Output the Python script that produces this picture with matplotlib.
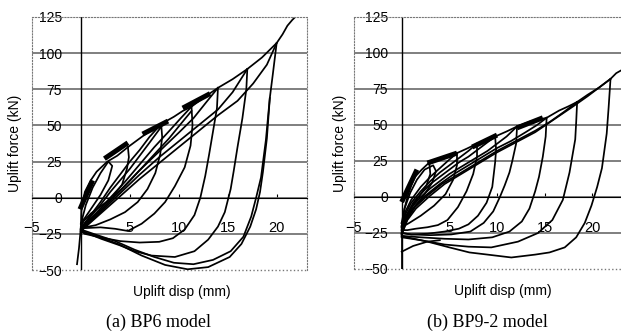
import matplotlib
matplotlib.use("Agg")
import matplotlib.pyplot as plt

plt.rcParams['font.family'] = ['Liberation Sans', 'DejaVu Sans']

# ---- BP6 model (left) : (disp mm, force kN) ----
bp6_spike = [(-0.4, -46), (-0.2, -35), (0, -20)]
bp6_virgin = [(0, -20), (0.05, -8), (0.4, 4), (1.0, 12), (1.6, 18), (2.7, 25), (3.7, 29), (4.8, 35)]
bp6_small = [(0, -18), (0.5, -5), (1.2, 7), (2.0, 17), (2.8, 25), (3.2, 22), (2.8, 12), (2.0, 2), (1.0, -8), (0, -18)]
bp6_env = [(4.8, 35), (6.0, 41), (7.0, 46), (8.2, 51), (9.5, 56), (10.4, 60), (11.3, 63), (12.5, 69),
           (14.0, 76), (15.5, 82), (17.0, 89), (18.5, 97), (20.0, 107), (20.6, 113), (21.1, 119),
           (21.6, 123), (22.2, 127)]
bp6_un1 = [(4.8, 35), (4.9, 28), (4.7, 20), (4.2, 9), (3.2, 0), (2.0, -6), (1.0, -11), (0.3, -16), (0, -20)]
bp6_un2 = [(8.2, 51), (8.3, 42), (8.1, 30), (7.6, 17), (6.8, 6), (5.8, -3), (4.5, -10), (3.0, -15),
           (1.5, -19), (0, -21)]
bp6_un3 = [(11.3, 63), (11.4, 50), (11.2, 36), (10.6, 21), (9.6, 8), (8.6, -3), (7.5, -11), (6.2, -18),
           (4.8, -23), (3.5, -21.5), (2.0, -20.5), (0.5, -21), (0, -21)]
bp6_un4 = [(14.0, 76), (13.9, 62), (13.5, 46), (13.1, 30), (12.7, 15), (12.2, 0), (11.6, -12), (10.6, -22),
           (9.4, -28), (8.0, -30.5), (6.0, -31), (4.0, -30), (2.0, -27.5), (0.4, -25), (0, -23)]
bp6_un5 = [(17.0, 89), (16.9, 75), (16.5, 55), (16.0, 35), (15.6, 18), (15.3, 6), (14.7, -10), (14.0, -20),
           (13.0, -29), (11.6, -37), (9.6, -41), (7.2, -40), (5.5, -37), (4.0, -33), (2.1, -28.5),
           (0.8, -25), (0, -23)]
bp6_un6 = [(20.0, 107), (19.6, 85), (19.3, 69), (19.0, 41), (18.6, 18), (18.3, 4), (17.9, -8), (17.3, -20),
           (16.4, -32), (15.2, -41), (13.0, -48), (10.9, -49.5), (8.6, -46.5), (6.2, -40), (3.8, -32),
           (1.4, -26), (0.4, -24), (0, -22)]
bp6_un6b = [(19.3, 69), (18.9, 40), (18.4, 14), (17.9, 0), (17.4, -13), (16.6, -27), (15.3, -37),
            (13.5, -43), (11.5, -46), (9.5, -45), (7.5, -41), (5.5, -36), (3.5, -30), (1.5, -25.5), (0, -22)]
bp6_re2 = [(0, -21), (1, -12), (2, -3), (3, 7), (4, 16), (5, 25), (6, 33), (7, 42), (8.2, 51)]
bp6_re2b = [(0, -21), (1, -13), (2, -5), (3, 4), (4, 12), (5, 20), (6, 29), (7, 38), (8.2, 49)]
bp6_re3 = [(0, -21), (1.5, -11), (3, 0), (4.5, 11), (6, 23), (7.5, 35), (9, 46), (10.2, 55), (11.3, 63)]
bp6_re3b = [(0, -22), (1.5, -12), (3, -2), (4.5, 8), (6, 19), (7.5, 30), (9, 41), (10.2, 51), (11.3, 60)]
bp6_re4 = [(0, -22), (2, -9), (4, 5), (6, 19), (8, 32), (10, 45), (11.5, 55), (12.8, 66), (14, 76)]
bp6_re5 = [(0, -23), (2, -10), (4, 3), (6, 16), (8, 28), (10, 39), (12, 50), (14, 61), (15.5, 73), (17, 89)]
bp6_re6 = [(0, -23), (2, -11), (4, 1), (6, 13), (8, 24), (10, 35), (12, 46), (14, 57), (16, 67),
           (17.6, 79), (19, 92), (20, 107)]
bp6_backbone = [[(-0.1, -8), (1.2, 12)], [(2.4, 27), (4.8, 38)], [(6.3, 44), (8.9, 53)], [(10.4, 62), (13.2, 72)]]

bp6_curves = [bp6_spike, bp6_virgin, bp6_small, bp6_env, bp6_un1, bp6_un2, bp6_un3, bp6_un4, bp6_un5,
              bp6_un6, bp6_un6b, bp6_re2, bp6_re2b, bp6_re3, bp6_re3b, bp6_re4, bp6_re5, bp6_re6]

# ---- BP9-2 model (right) ----
bp9_spike = [(0, -50), (0, -38), (0, -27)]
bp9_tail = [(0, -38), (1.2, -34), (2.7, -31), (4.0, -30)]
bp9_virgin = [(0, -21), (0.3, -8), (0.6, 0), (1.0, 8), (1.4, 14), (2.1, 19), (2.9, 24)]
bp9_small = [(0, -18), (0.3, -8), (0.9, 3), (1.6, 12), (2.4, 19), (3.3, 22), (3.6, 18), (3.2, 10),
             (2.3, 1), (1.2, -8), (0.3, -15), (0, -18)]
bp9_env = [(2.9, 24), (4.0, 27), (5.0, 29), (5.8, 30.5), (6.8, 33.5), (7.9, 37), (8.8, 39.5), (9.8, 42),
           (11.0, 45.5), (12.1, 49), (13.5, 52.5), (15.2, 55), (16.5, 60), (17.5, 63), (18.4, 66),
           (19.5, 71), (20.7, 76), (21.9, 82), (22.5, 86), (23.3, 89)]
bp9_un1 = [(2.9, 24), (3.0, 16), (2.6, 8), (1.8, 0), (1.0, -7), (0.4, -14), (0, -20)]
bp9_un2 = [(5.8, 30.5), (5.8, 22), (5.4, 12), (4.6, 2), (3.4, -6), (2.0, -13), (0.8, -18), (0, -21)]
bp9_un3 = [(7.9, 37), (7.9, 28), (7.5, 16), (6.8, 4), (5.9, -7), (4.8, -16), (3.8, -19.5), (2.7, -21),
           (1.5, -22), (0.6, -23), (0, -23)]
bp9_un4 = [(9.8, 42), (9.9, 33), (9.8, 24), (9.5, 7), (8.9, -4), (8.0, -13), (7.0, -19), (6.0, -22),
           (4.5, -24), (2.7, -25.5), (1.0, -26), (0, -25)]
bp9_un5 = [(12.1, 49), (12.0, 37), (11.6, 25), (11.3, 17), (10.8, 8), (10.3, 0), (9.6, -10), (8.6, -18),
           (7.2, -24), (5.2, -26), (3.0, -26.5), (1.0, -26), (0, -25)]
bp9_un6 = [(15.2, 55), (15.1, 42), (14.8, 28), (14.4, 14), (14.0, 4), (13.4, -8), (12.6, -17), (11.3, -24),
           (9.5, -28), (7.0, -29.5), (4.5, -29), (2.0, -28), (0, -27)]
bp9_un7 = [(18.4, 66), (18.3, 52), (18.2, 40), (17.6, 17), (16.9, -2), (15.8, -16), (14.3, -25),
           (12.2, -31), (9.4, -35), (7.0, -34.5), (4.5, -33), (2.0, -30), (0, -28)]
bp9_un8 = [(21.9, 82), (21.7, 62), (21.5, 44), (21.0, 20), (20.5, 7), (19.9, -6), (19.2, -18), (18.3, -28),
           (17.1, -35), (15.5, -38.5), (14.0, -40), (11.5, -42), (9.0, -40), (7.1, -38.5), (5.0, -35),
           (2.7, -31), (0.6, -28), (0, -27)]
bp9_re2 = [(0, -20), (0.4, -10), (1, -2), (2, 7), (3, 14), (4, 20), (5, 26), (5.8, 30.5)]
bp9_re3 = [(0, -22), (0.4, -12), (1, -4), (2, 4), (3, 11), (4, 17), (5, 22), (6, 27), (7, 32), (7.9, 37)]
bp9_re4 = [(0, -23), (0.5, -13), (1.2, -4), (2, 2), (3, 9), (4, 14), (5, 19), (6, 24), (7, 28), (8, 33),
           (9, 38), (9.8, 42)]
bp9_re5 = [(0, -24), (0.5, -14), (1.2, -6), (2, 0), (3, 6), (4, 11), (5, 16), (6, 20), (7, 24), (8, 28),
           (9, 32), (10, 37), (11, 42), (12.1, 49)]
bp9_re6 = [(0, -25), (0.5, -15), (1.3, -7), (2.5, 1), (4, 9), (5.5, 16), (7, 22), (8.5, 28), (10, 34),
           (11.5, 39), (13, 45), (14.2, 50), (15.2, 55)]
bp9_re7 = [(0, -26), (0.6, -15), (1.4, -7), (2.7, 1), (4.2, 9), (6, 16), (8, 24), (10, 32), (12, 39),
           (14, 46), (15.5, 52), (17, 59), (18.4, 66)]
bp9_re8 = [(0, -26), (0.6, -16), (1.5, -8), (3, 1), (4.5, 9), (6, 15), (8, 23), (10, 31), (12, 38),
           (14, 45), (16, 54), (18, 63), (19.5, 70), (20.7, 76), (21.9, 82)]
bp9_backbone = [[(0, -3.5), (0.6, 5), (1.6, 19)], [(2.7, 23.6), (5.8, 30.5)], [(7.4, 34.7), (10.0, 43)],
                [(12.1, 48), (14.8, 55)]]

bp9_curves = [bp9_spike, bp9_tail, bp9_virgin, bp9_small, bp9_env, bp9_un1, bp9_un2, bp9_un3, bp9_un4,
              bp9_un5, bp9_un6, bp9_un7, bp9_un8, bp9_re2, bp9_re3, bp9_re4, bp9_re5, bp9_re6, bp9_re7, bp9_re8]

yticks = [-50, -25, 0, 25, 50, 75, 100, 125]
xticks = [-5, 5, 10, 15, 20]

W, H = 621, 336
fig = plt.figure(figsize=(W / 100, H / 100), dpi=100)


def px_axes(l, t, r, b):
    return fig.add_axes([l / W, 1 - b / H, (r - l) / W, (b - t) / H])


def style(ax, xmax, ypad, xl, yl):
    ax.set_xlim(-5, xmax)
    ax.set_ylim(-50, 125)
    ax.set_yticks(yticks)
    ax.set_xticks(xticks)
    ax.tick_params(axis='y', length=0, pad=ypad, labelsize=10)
    ax.tick_params(axis='x', direction='in', length=3, pad=17, labelsize=10.5)
    ax.yaxis.grid(True, color='#6a6a6a', lw=1.2)
    gl = ax.yaxis.get_gridlines()
    gl[0].set_visible(False)
    gl[-1].set_visible(False)
    ax.set_axisbelow(True)
    for s in ['left', 'right', 'top']:
        ax.spines[s].set_linestyle(':')
        ax.spines[s].set_color('#777777')
    ax.spines['bottom'].set_position(('data', 0))
    ax.spines['bottom'].set_color('black')
    ax.axhline(-50, color='#777777', ls=':', lw=1, clip_on=False)
    ax.axvline(0, color='black', lw=1)
    ax.set_xlabel('Uplift disp (mm)', fontsize=10)
    ax.set_ylabel('Uplift force (kN)', fontsize=10)
    ax.xaxis.set_label_coords(xl, -0.06)
    ax.yaxis.set_label_coords(yl, 0.5)


def draw(ax, curves, backbone):
    for c in curves:
        xs, ys = zip(*c)
        ax.plot(xs, ys, color='black', lw=1.25, solid_joinstyle='round')
    for seg in backbone:
        xs, ys = zip(*seg)
        ax.plot(xs, ys, color='black', lw=3.6, solid_capstyle='butt')


ax1 = px_axes(32, 17, 307, 270)
style(ax1, 23.1, -21.5, 0.545, -0.035)
draw(ax1, bp6_curves, bp6_backbone)

ax2 = px_axes(354, 17, 621, 269)
style(ax2, 23.0, -24.5, 0.558, -0.028)
ax2.spines['right'].set_visible(False)
draw(ax2, bp9_curves, bp9_backbone)

fig.text(158 / W, 1 - 322 / H, '(a) BP6 model', family='Liberation Serif', fontsize=13,
         ha='center', va='center')
fig.text(487 / W, 1 - 322 / H, '(b) BP9-2 model', family='Liberation Serif', fontsize=13,
         ha='center', va='center')

fig.savefig('out.png', dpi=100)
